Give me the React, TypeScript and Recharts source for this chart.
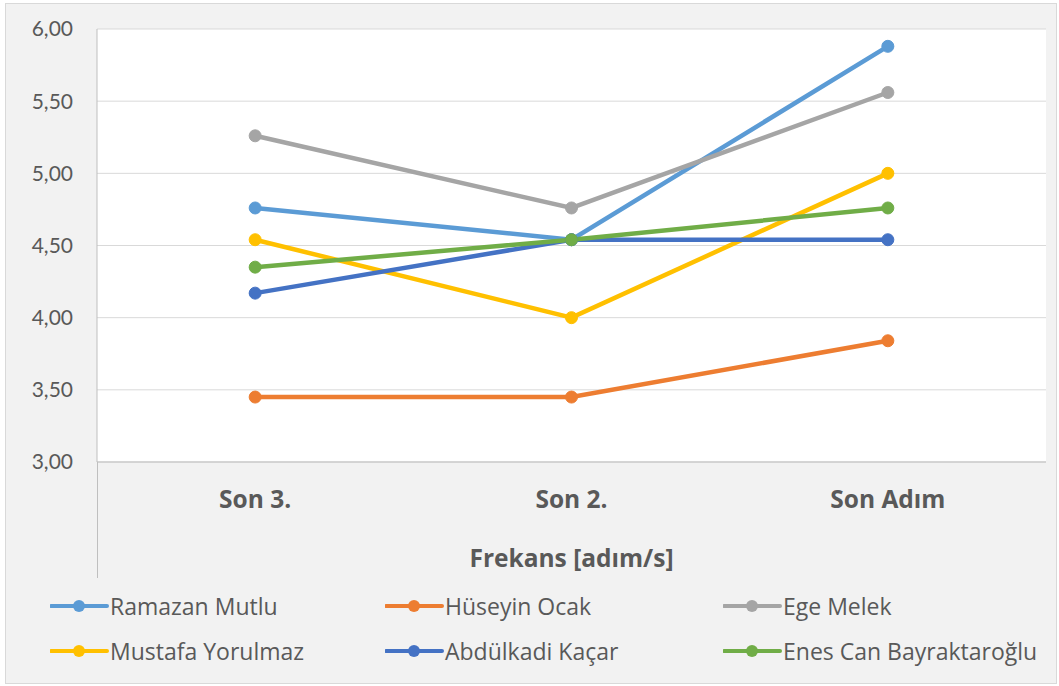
import React from "react";
import { LineChart, Line, XAxis, YAxis, CartesianGrid, Legend } from "recharts";

const categories = ["Son 3.", "Son 2.", "Son Adım"];

const ramazan = [4.76, 4.54, 5.88];
const huseyin = [3.45, 3.45, 3.84];
const ege = [5.26, 4.76, 5.56];
const mustafa = [4.54, 4.0, 5.0];
const abdulkadi = [4.17, 4.54, 4.54];
const enes = [4.35, 4.54, 4.76];

const yTicks = [3, 3.5, 4, 4.5, 5, 5.5, 6];

const series = [
  { key: "ramazan", name: "Ramazan Mutlu", values: ramazan, color: "#5B9BD5" },
  { key: "huseyin", name: "Hüseyin Ocak", values: huseyin, color: "#ED7D31" },
  { key: "ege", name: "Ege Melek", values: ege, color: "#A5A5A5" },
  { key: "mustafa", name: "Mustafa Yorulmaz", values: mustafa, color: "#FFC000" },
  { key: "abdulkadi", name: "Abdülkadi Kaçar", values: abdulkadi, color: "#4472C4" },
  { key: "enes", name: "Enes Can Bayraktaroğlu", values: enes, color: "#70AD47" },
];

const data = categories.map((c, i) => {
  const row: Record<string, string | number> = { name: c };
  series.forEach((s) => {
    row[s.key] = s.values[i];
  });
  return row;
});

const FONT = "'Open Sans', 'Noto Sans', sans-serif";
const TICK_FONT = "Lato, sans-serif";
const TEXT = "#595959";

const fmt = (v: number) => v.toFixed(2).replace(".", ",");

const legendCols = [44, 379, 717];

// keep legend in series order (recharts sorts it by name otherwise)
const renderLegend = (props: any) => {
  const payload = props.payload || [];
  const items = series.map((s) => payload.find((p: any) => p.value === s.name)).filter(Boolean);
  return (
    <div style={{ position: "relative", height: 105, fontFamily: FONT }}>
      {items.map((p: any, i: number) => (
        <div
          key={p.value}
          style={{
            position: "absolute",
            left: legendCols[i % 3],
            top: i < 3 ? 14 : 59,
            display: "flex",
            alignItems: "center",
            height: 28,
          }}
        >
          <svg width={60} height={16}>
            <line x1={1} y1={8} x2={57} y2={8} stroke={p.color} strokeWidth={4} strokeLinecap="round" />
            <circle cx={29} cy={8} r={6} fill={p.color} />
          </svg>
          <span style={{ fontSize: 23, color: TEXT, marginLeft: 0 }}>{p.value}</span>
        </div>
      ))}
    </div>
  );
};

export default function App() {
  return (
    <div
      style={{
        position: "absolute",
        left: 5,
        top: 3,
        width: 1050,
        height: 679,
        border: "1px solid #d9d9d9",
        background: "#f2f2f2",
      }}
    >
      <LineChart
        width={1050}
        height={679}
        data={data}
        margin={{ top: 25, right: 10, left: 0, bottom: 0 }}
        style={{ fontFamily: FONT }}
      >
        <CartesianGrid vertical={false} stroke="#d9d9d9" fill="#ffffff" strokeWidth={1} />
        <XAxis
          dataKey="name"
          scale="band"
          height={116}
          tickLine={false}
          axisLine={{ stroke: "#bfbfbf", strokeWidth: 1 }}
          tickMargin={23}
          tick={{ fill: TEXT, fontSize: 24.5, fontWeight: 700 }}
          label={{
            value: "Frekans [adım/s]",
            position: "insideBottom",
            offset: 11,
            fill: TEXT,
            fontSize: 24.5,
            fontWeight: 700,
          }}
        />
        <YAxis
          width={91}
          domain={[3, 6]}
          ticks={yTicks}
          tickFormatter={fmt}
          tickLine={false}
          axisLine={{ stroke: "#bfbfbf", strokeWidth: 1 }}
          tickMargin={18}
          tick={{ fill: TEXT, fontSize: 21, fontFamily: TICK_FONT }}
        />
        <Legend verticalAlign="bottom" content={renderLegend} />
        {series.map((s) => (
          <Line
            key={s.key}
            dataKey={s.key}
            name={s.name}
            stroke={s.color}
            strokeWidth={4.5}
            dot={{ r: 6, fill: s.color, stroke: s.color, strokeWidth: 1 }}
            activeDot={false}
            isAnimationActive={false}
          />
        ))}
      </LineChart>
      <div
        style={{
          position: "absolute",
          left: 91,
          top: 458,
          width: 1,
          height: 116,
          background: "#bfbfbf",
        }}
      />
    </div>
  );
}
